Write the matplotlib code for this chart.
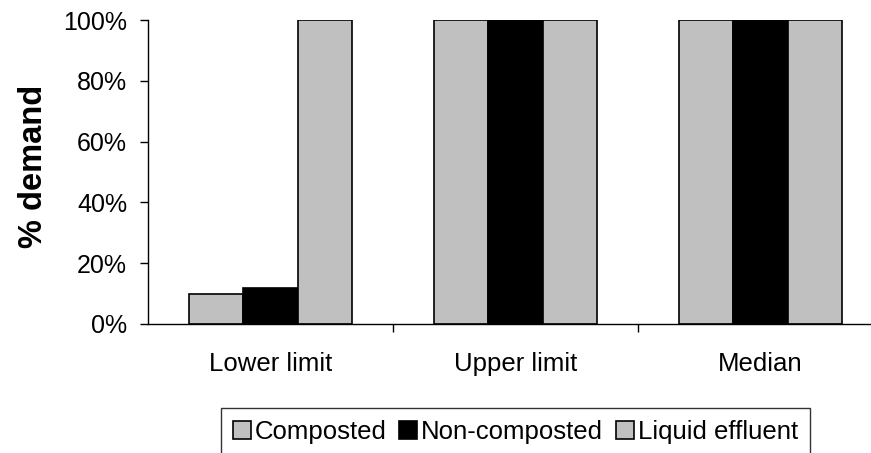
import numpy as np
import matplotlib.pyplot as plt

plt.rcParams['font.family'] = ['Liberation Sans', 'DejaVu Sans']

categories = ["Lower limit", "Upper limit", "Median"]
series = ["Composted", "Non-composted", "Liquid effluent"]
composted = [0.10, 1.0, 1.0]
non_composted = [0.12, 1.0, 1.0]
liquid_effluent = [1.0, 1.0, 1.0]
colors = ["#C0C0C0", "#000000", "#C0C0C0"]

fig = plt.figure(figsize=(8.71, 4.53), dpi=100)
ax = fig.add_axes([0.170, 0.2848, 0.8438, 0.671])

x = np.arange(len(categories))
w = 0.222
for i, (vals, name) in enumerate(zip([composted, non_composted, liquid_effluent], series)):
    ax.bar(x + (i - 1) * w, vals, w, color=colors[i], edgecolor="black",
           linewidth=1.2, label=name)

ax.set_xlim(-0.5, len(categories) - 0.5)
ax.set_ylim(0, 1.0)
ticks = np.arange(0, 1.01, 0.2)
ax.set_yticks(ticks)
ax.set_yticklabels([f"{int(round(v * 100))}%" for v in ticks], fontsize=18)
ax.set_xticks(x)
ax.set_xticklabels(categories, fontsize=18.5)
ax.tick_params(axis="x", which="major", length=0, pad=20)
ax.set_xticks(np.arange(0.5, len(categories) - 0.5, 1.0), minor=True)
ax.tick_params(axis="x", which="minor", length=6, width=1)
ax.tick_params(axis="y", length=6, width=1, pad=9)

for s in ["top", "right"]:
    ax.spines[s].set_visible(False)
ax.spines["left"].set_linewidth(1)
ax.spines["bottom"].set_linewidth(1)

ax.set_ylabel("% demand", fontsize=23.5, fontweight="bold")
ax.yaxis.set_label_coords(-0.135, 0.52)

leg = fig.legend(loc="upper center", bbox_to_anchor=(0.5918, 0.0993), ncol=3,
                 fontsize=18.5, frameon=True, fancybox=False, edgecolor="black",
                 handlelength=0.7, handleheight=0.7, handletextpad=0.15,
                 columnspacing=0.5, borderpad=0.45, borderaxespad=0)
leg.get_frame().set_linewidth(1)

fig.savefig("out.png", dpi=100)
